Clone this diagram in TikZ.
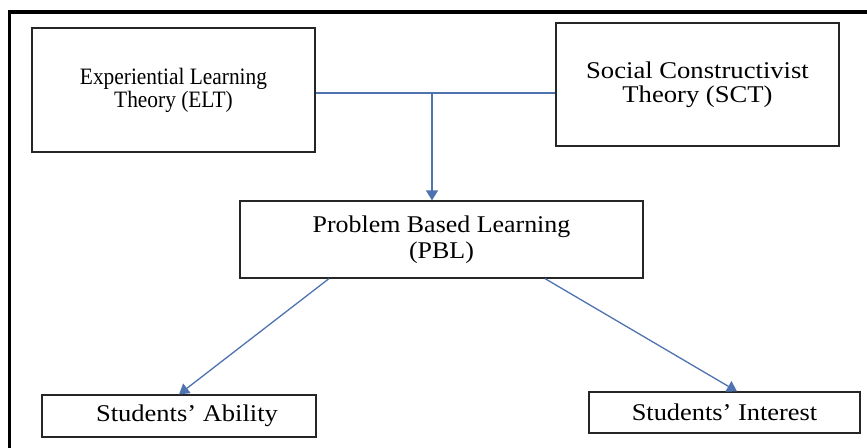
\documentclass[tikz,border=0pt]{standalone}
\usepackage{fontspec}
\setmainfont{Liberation Serif}
\usetikzlibrary{shapes,arrows,arrows.meta,positioning,calc}

\definecolor{linkblue}{RGB}{79,114,176}
% size, line skip, horizontal stretch
\newcommand{\boxfont}[3]{\fontsize{#1}{#2}\selectfont\addfontfeature{FakeStretch=#3}}
\tikzset{
  box/.style={draw=black!85, line width=1.2pt, inner sep=0pt, align=center,
    font=\boxfont{24}{24}{1.0}},
  link/.style={draw=linkblue, line width=1.3pt},
  linkarrow/.style={link, -{Triangle[length=10pt,width=12pt]}}
}

\begin{document}
\begin{tikzpicture}[x=1pt, y=-1pt]
\useasboundingbox (0,0) rectangle (867,447);
% frame
\draw[line width=3.5pt] (9.5,460) -- (9.5,12) -- (880,12);
% boxes
\node (elt) [box, minimum width=283, minimum height=124, font=\boxfont{23.5}{23}{0.91}] at (173.5,90) {Experiential Learning\\Theory (ELT)};
\node (sct) [box, minimum width=283, minimum height=123, font=\boxfont{24}{24}{1.11}] at (697.5,84.5) {Social Constructivist\\Theory (SCT)};
\node (pbl) [box, minimum width=403, minimum height=77, font=\boxfont{24}{26}{1.08}] at (441.5,239.5) {Problem Based Learning\\(PBL)};
\node (abl) [box, minimum width=274, minimum height=42, font=\boxfont{24}{24}{1.105}] at (179,416) {\hspace{16pt}Students' Ability};
\node (int) [box, minimum width=271, minimum height=41, font=\boxfont{24}{24}{1.10}] at (724.5,412.5) {Students' Interest};
% connectors
\coordinate (join) at (432,93);
\draw[link] (elt.east |- join) -- (sct.west |- join);
\draw[linkarrow] (join) -- (join |- pbl.north);
\draw[linkarrow] ($(pbl.south)+(-112.5,0)$) -- (abl.north);
\draw[linkarrow] ($(pbl.south)+(103.5,0)$) -- ($(int.north)+(12.5,0)$);
\end{tikzpicture}
\end{document}
